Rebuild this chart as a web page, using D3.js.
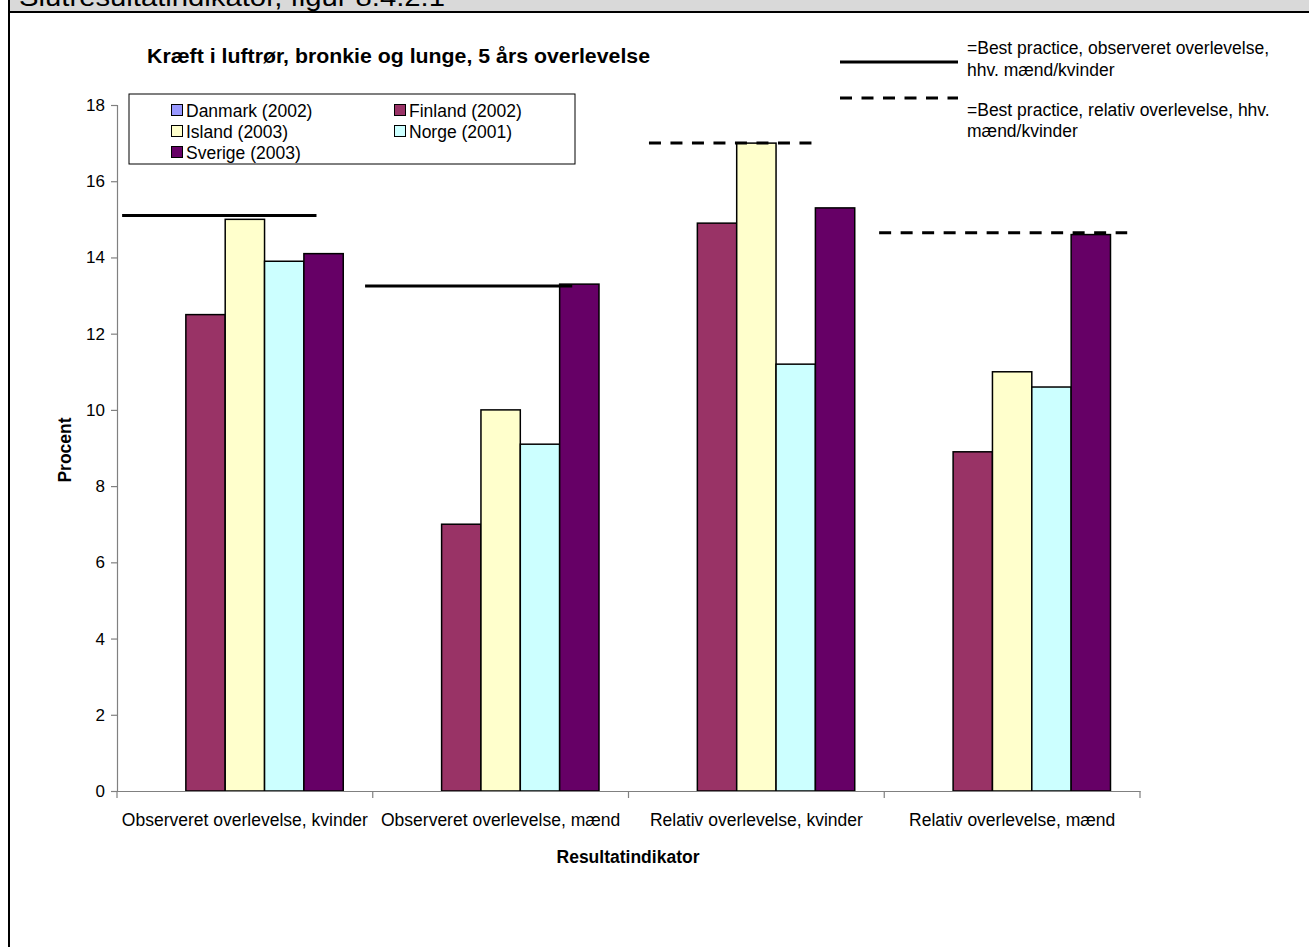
<!DOCTYPE html>
<html>
<head>
<meta charset="utf-8">
<script src="https://cdn.jsdelivr.net/npm/d3@7"></script>
<style>
  html, body { margin: 0; padding: 0; background: #fff; }
  svg { display: block; }
  text { font-family: "Liberation Sans", Arial, sans-serif; fill: #000; }
</style>
</head>
<body>
<script>
// Lung cancer 5-year survival by indicator and country
const categories = [
  "Observeret overlevelse, kvinder",
  "Observeret overlevelse, mænd",
  "Relativ overlevelse, kvinder",
  "Relativ overlevelse, mænd"
];
const seriesNames = ["Danmark (2002)", "Finland (2002)", "Island (2003)", "Norge (2001)", "Sverige (2003)"];
const seriesColors = ["#9999FF", "#993366", "#FFFFCC", "#CCFFFF", "#660066"];
// Danmark has no reported values
const danmark = [null, null, null, null];
const finland = [12.5, 7.0, 14.9, 8.9];
const island  = [15.0, 10.0, 17.0, 11.0];
const norge   = [13.9, 9.1, 11.2, 10.6];
const sverige = [14.1, 13.3, 15.3, 14.6];
const seriesValues = [danmark, finland, island, norge, sverige];
// Best practice reference levels per indicator
const bestPractice = [15.1, 13.25, 17.0, 14.65];
const yTicks = [0, 2, 4, 6, 8, 10, 12, 14, 16, 18];

const W = 1309, H = 947;
const svg = d3.select("body").append("svg").attr("width", W).attr("height", H);

// Header band
svg.append("rect").attr("x", 9).attr("y", 0).attr("width", W - 9).attr("height", 11).attr("fill", "#d9d9d9");
svg.append("text").attr("x", 19).attr("y", 6)
  .attr("font-family", "'DejaVu Serif', 'Liberation Serif', serif")
  .attr("font-size", 25)
  .attr("textLength", 426).attr("lengthAdjust", "spacingAndGlyphs")
  .text("Slutresultatindikator, figur 8.4.2.1");
svg.append("line").attr("x1", 8).attr("x2", W).attr("y1", 12).attr("y2", 12).attr("stroke", "#000").attr("stroke-width", 2);
svg.append("line").attr("x1", 9).attr("x2", 9).attr("y1", 0).attr("y2", H).attr("stroke", "#000").attr("stroke-width", 2);

// Plot area
const plot = { left: 117, right: 1140, top: 105, bottom: 791 };
const x = d3.scaleBand().domain(categories).range([plot.left, plot.right]).paddingInner(0).paddingOuter(0);
const xs = d3.scaleBand().domain(seriesNames).range([0, x.bandwidth()]).paddingInner(0).paddingOuter(0.75);
const y = d3.scaleLinear().domain([0, 18]).range([plot.bottom, plot.top]);

// Y axis
const yAxis = svg.append("g").attr("transform", `translate(${plot.left},0)`)
  .call(d3.axisLeft(y).tickValues(yTicks).tickSize(6).tickPadding(6).tickFormat(d3.format("d")));
yAxis.select(".domain").attr("stroke", "#808080").attr("stroke-width", 1.2);
yAxis.selectAll(".tick line").attr("stroke", "#808080").attr("stroke-width", 1.2);
yAxis.selectAll(".tick text").attr("font-size", 17).attr("font-family", "'Liberation Sans', Arial, sans-serif").attr("fill", "#000");

// Bars
const groups = svg.append("g").selectAll("g").data(categories).join("g")
  .attr("transform", d => `translate(${x(d)},0)`);
groups.each(function(cat, ci) {
  const rows = seriesNames.map((s, si) => ({ s, si, v: seriesValues[si][ci] })).filter(r => r.v != null);
  d3.select(this).selectAll("rect").data(rows).join("rect")
    .attr("x", r => xs(r.s))
    .attr("y", r => y(r.v))
    .attr("width", xs.bandwidth())
    .attr("height", r => y(0) - y(r.v))
    .attr("fill", r => seriesColors[r.si])
    .attr("stroke", "#000")
    .attr("stroke-width", 1.5);
});

// X axis
const xAxis = svg.append("g").attr("transform", `translate(0,${plot.bottom})`)
  .call(d3.axisBottom(x).tickSize(0).tickPadding(23));
xAxis.select(".domain").attr("stroke", "#808080").attr("stroke-width", 1.2);
xAxis.selectAll(".tick text").attr("font-size", 17.5).attr("font-family", "'Liberation Sans', Arial, sans-serif").attr("fill", "#000");
const bounds = categories.map(c => x(c)).concat([plot.right]);
svg.append("g").selectAll("line").data(bounds).join("line")
  .attr("x1", d => d).attr("x2", d => d)
  .attr("y1", plot.bottom).attr("y2", plot.bottom + 7)
  .attr("stroke", "#808080").attr("stroke-width", 1.2);

// Best practice lines (solid = observed, dashed = relative)
const bpSpan = [[0.02, 0.78], [-0.03, 0.78], [0.08, 0.73], [-0.02, 0.95]];
const bpDashed = [false, false, true, true];
svg.append("g").selectAll("line").data(bestPractice).join("line")
  .attr("x1", (d, i) => x(categories[i]) + bpSpan[i][0] * x.bandwidth())
  .attr("x2", (d, i) => x(categories[i]) + bpSpan[i][1] * x.bandwidth())
  .attr("y1", d => y(d)).attr("y2", d => y(d))
  .attr("stroke", "#000").attr("stroke-width", 3)
  .attr("stroke-dasharray", (d, i) => bpDashed[i] ? "12,9.5" : null);

// Title
svg.append("text").attr("x", 147).attr("y", 63)
  .attr("font-size", 21).attr("font-weight", "bold")
  .attr("textLength", 503).attr("lengthAdjust", "spacingAndGlyphs")
  .text("Kræft i luftrør, bronkie og lunge, 5 års overlevelse");

// Axis titles
svg.append("text").attr("x", 628).attr("y", 863).attr("text-anchor", "middle")
  .attr("font-size", 17.5).attr("font-weight", "bold").text("Resultatindikator");
svg.append("text").attr("transform", "translate(71,450) rotate(-90)").attr("text-anchor", "middle")
  .attr("font-size", 17.5).attr("font-weight", "bold").text("Procent");

// Series legend
const lg = svg.append("g");
lg.append("rect").attr("x", 129).attr("y", 94).attr("width", 446).attr("height", 70)
  .attr("fill", "#fff").attr("stroke", "#000").attr("stroke-width", 1);
const legendPos = seriesNames.map((s, i) => ({ s, i, col: i % 2, row: Math.floor(i / 2) }));
const items = lg.selectAll("g.item").data(legendPos).join("g").attr("class", "item")
  .attr("transform", d => `translate(${d.col ? 400 : 177},${110 + d.row * 21})`);
items.append("rect").attr("x", -5.5).attr("y", -5.5).attr("width", 11).attr("height", 11)
  .attr("fill", d => seriesColors[d.i]).attr("stroke", "#000").attr("stroke-width", 1);
items.append("text").attr("x", 9).attr("y", 6.5).attr("font-size", 17.5).text(d => d.s);

// Best practice legend
const bl = svg.append("g");
bl.append("line").attr("x1", 840).attr("x2", 958).attr("y1", 62).attr("y2", 62)
  .attr("stroke", "#000").attr("stroke-width", 3);
bl.append("line").attr("x1", 840).attr("x2", 958).attr("y1", 98).attr("y2", 98)
  .attr("stroke", "#000").attr("stroke-width", 3).attr("stroke-dasharray", "12,9.5");
const blText = [["=Best practice, observeret overlevelse,", 54], ["hhv. mænd/kvinder", 76],
                ["=Best practice, relativ overlevelse, hhv.", 116], ["mænd/kvinder", 137]];
bl.selectAll("text").data(blText).join("text")
  .attr("x", 967).attr("y", d => d[1]).attr("font-size", 17.5).text(d => d[0]);
</script>
</body>
</html>
